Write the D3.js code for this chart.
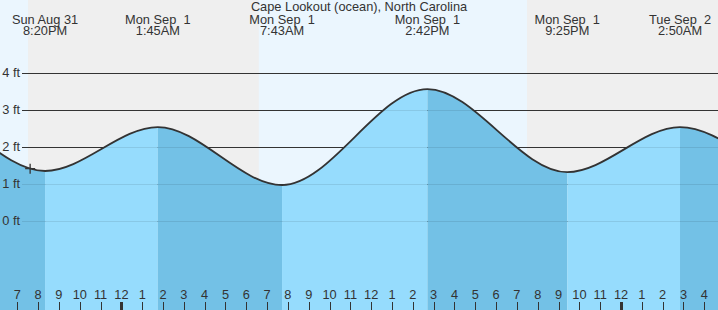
<!DOCTYPE html>
<html>
<head>
<meta charset="utf-8">
<script src="https://cdn.jsdelivr.net/npm/d3@7"></script>
<style>
  html, body { margin:0; padding:0; background:#fff; }
  svg { display:block; font-family: "Liberation Sans", Arial, sans-serif; }
</style>
</head>
<body>
<div id="content"></div>
<script>
const title = "Cape Lookout (ocean), North Carolina";

// tide extremes (the first two and last two lie outside the visible window)
const extremeTimes   = ["2025-08-31T07:50", "2025-08-31T13:50", "2025-08-31T20:20", "2025-09-01T01:45",
                        "2025-09-01T07:43", "2025-09-01T14:42", "2025-09-01T21:25", "2025-09-02T02:50",
                        "2025-09-02T09:00", "2025-09-02T15:30"];
const extremeHeights = [1.0, 3.2, 1.34, 2.53, 0.96, 3.56, 1.31, 2.53, 1.1, 3.4];

// sunset / sunrise
const sunTimes = ["2025-08-31T19:31", "2025-09-01T06:36", "2025-09-01T19:29"];
const sunKinds = ["set", "rise", "set"];

const nowTime = "2025-08-31T19:37";
const yTicks = [0, 1, 2, 3, 4];

const parse = d3.timeParse("%Y-%m-%dT%H:%M");
const extremes = extremeTimes.map((t, i) => ({ t: parse(t), h: extremeHeights[i] }));

//////////////////// drawing area
const W = 718, H = 310;
const FS = 12.8;
const x = d3.scaleTime()
  .domain([parse("2025-08-31T19:00"), parse("2025-09-02T04:00")])
  .range([17.3, 704.3]);
const y = d3.scaleLinear().domain([0, 4]).range([220.5, 72.8]);

const svg = d3.select("#content").append("svg")
  .attr("width", W).attr("height", H);

// day / night background
svg.append("rect").attr("width", W).attr("height", H).attr("fill", "#ebf6fe");
const sun = sunTimes.map((t, i) => ({ t: parse(t), kind: sunKinds[i] }));
sun.forEach((s, i) => {
  if (s.kind !== "set") return;
  const x0 = x(s.t);
  const next = sun[i + 1];
  const x1 = next ? x(next.t) : W;
  svg.append("rect").attr("x", x0).attr("y", 0)
    .attr("width", x1 - x0).attr("height", H).attr("fill", "#efefef");
});

// grid lines
svg.selectAll(".grid").data(yTicks).enter().append("line")
  .attr("x1", 22).attr("x2", W)
  .attr("y1", d => Math.round(y(d)) + 0.5).attr("y2", d => Math.round(y(d)) + 0.5)
  .attr("stroke", "#333").attr("stroke-width", 1);

// water
const area = d3.area().curve(d3.curveMonotoneX)
  .x(d => x(d.t)).y0(H).y1(d => y(d.h));
const line = d3.line().curve(d3.curveMonotoneX)
  .x(d => x(d.t)).y(d => y(d.h));

svg.append("clipPath").attr("id", "water")
  .append("path").attr("d", area(extremes));

const water = svg.append("g").attr("clip-path", "url(#water)");
for (let i = 0; i < extremes.length - 1; i++) {
  const a = extremes[i], b = extremes[i + 1];
  water.append("rect")
    .attr("x", x(a.t)).attr("y", 0)
    .attr("width", x(b.t) - x(a.t)).attr("height", H)
    .attr("fill", b.h < a.h ? "#73c1e6" : "#96dcfd");
}
water.selectAll(".wgrid").data(yTicks).enter().append("line")
  .attr("x1", 22).attr("x2", W)
  .attr("y1", d => Math.round(y(d)) + 0.5).attr("y2", d => Math.round(y(d)) + 0.5)
  .attr("stroke", "#000").attr("stroke-opacity", 0.09);

svg.append("path").attr("d", line(extremes))
  .attr("fill", "none").attr("stroke", "#333").attr("stroke-width", 1.8);

// y labels on top of everything
svg.selectAll(".ylab").data(yTicks).enter().append("text")
  .attr("x", 20).attr("y", d => y(d) + 4.5)
  .attr("text-anchor", "end").attr("font-size", FS).attr("fill", "#333")
  .text(d => d + " ft");

// current time marker, height taken from the drawn curve
const now = parse(nowTime);
const node = svg.append("path").attr("d", line(extremes))
  .attr("fill", "none").attr("stroke", "none").node();
let lo = 0, hi = node.getTotalLength();
const nx = x(now);
for (let k = 0; k < 40; k++) {
  const mid = (lo + hi) / 2;
  if (node.getPointAtLength(mid).x < nx) lo = mid; else hi = mid;
}
const ny = node.getPointAtLength(lo).y;
svg.append("path")
  .attr("d", `M${nx - 5},${ny}H${nx + 5}M${nx},${ny - 5}V${ny + 5}`)
  .attr("stroke", "#333").attr("stroke-width", 1.3);

// extreme labels at top
const fDay = d3.timeFormat("%a %b %e");
const fTime = d3.timeFormat("%-I:%M%p");
const shown = extremes.filter(d => x(d.t) >= 0 && x(d.t) <= W);
const labs = svg.selectAll(".ext").data(shown).enter().append("text")
  .attr("text-anchor", "middle").attr("font-size", FS).attr("fill", "#333")
  .attr("xml:space", "preserve");
labs.append("tspan").attr("x", d => x(d.t)).attr("y", 24).text(d => fDay(d.t));
labs.append("tspan").attr("x", d => x(d.t)).attr("y", 35).text(d => fTime(d.t));

svg.append("text").attr("x", 359).attr("y", 11)
  .attr("text-anchor", "middle").attr("font-size", FS).attr("fill", "#333")
  .text(title);

// hour ticks
const hours = x.ticks(d3.timeHour.every(1));
svg.selectAll(".tick").data(hours).enter().append("line")
  .attr("x1", d => Math.round(x(d)) + 0.5).attr("x2", d => Math.round(x(d)) + 0.5)
  .attr("y1", 302).attr("y2", H)
  .attr("stroke", "#333")
  .attr("stroke-width", d => d.getHours() === 0 ? 3 : 1);
svg.selectAll(".hlab").data(hours).enter().append("text")
  .attr("x", d => x(d)).attr("y", 299)
  .attr("text-anchor", "middle").attr("font-size", FS).attr("fill", "#333")
  .text(d3.timeFormat("%-I"));
</script>
</body>
</html>
